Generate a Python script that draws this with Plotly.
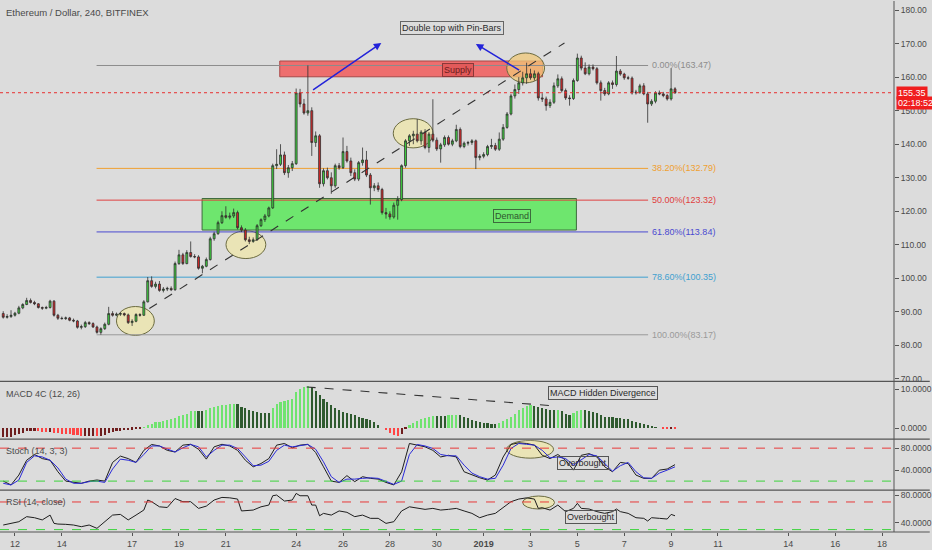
import pandas as pd
import plotly.graph_objects as go
from plotly.subplots import make_subplots

# ---------------------------------------------------------------
# ETH/USD 4h candles (Bitfinex)
# ---------------------------------------------------------------
first_candle = "2018-12-11 12:00"

open_ = [
    89.5, 88.4, 88.6, 89.0, 89.6, 91.2, 92.2, 93.4, 92.8, 92.4,
    91.3, 91.1, 91.3, 93.2, 89.0, 88.1, 88.0, 88.2, 87.5, 87.3,
    85.4, 85.6, 86.8, 86.5, 85.5, 83.9, 85.0, 86.3, 89.5, 89.0,
    89.3, 89.5, 89.1, 86.8, 87.2, 89.2, 89.0, 93.0, 99.3, 97.6,
    98.3, 96.4, 96.8, 97.0, 96.6, 104.4, 107.0, 104.4, 107.7, 106.5,
    106.4, 103.0, 103.6, 105.6, 111.8, 113.3, 116.6, 118.7, 118.2, 118.6,
    119.6, 115.1, 114.4, 111.5, 111.0, 111.5, 115.7, 117.5, 118.6, 121.0,
    133.6, 134.0, 136.8, 131.5, 133.0, 134.2, 155.3, 152.0, 149.3, 150.0,
    140.5, 142.5, 128.2, 132.1, 130.0, 127.6, 133.6, 133.0, 137.8, 135.0,
    131.5, 129.6, 134.5, 135.3, 130.8, 127.0, 127.6, 126.5, 119.6, 119.2,
    118.3, 121.8, 123.5, 133.6, 141.0, 142.5, 143.0, 141.0, 143.6, 139.0,
    143.0, 141.2, 138.6, 139.8, 142.0, 140.0, 141.0, 144.4, 139.3, 140.3,
    140.5, 141.0, 136.0, 136.4, 136.9, 139.3, 139.6, 138.5, 141.5, 145.0,
    149.0, 154.4, 156.3, 158.3, 159.8, 161.0, 159.8, 161.0, 153.8, 153.5,
    151.5, 152.5, 157.4, 159.5, 156.0, 153.8, 153.6, 159.0, 165.7, 162.7,
    161.0, 163.0, 162.5, 158.3, 156.0, 155.0, 158.3, 157.8, 161.8, 160.9,
    159.8, 159.7, 155.3, 155.5, 157.4, 155.0, 152.0, 152.8, 155.3, 155.0,
    154.5, 153.5, 156.5,
]
high = [
    90.2, 89.3, 90.5, 90.0, 91.8, 92.6, 94.2, 94.0, 93.3, 92.6,
    91.6, 91.8, 93.6, 93.5, 89.4, 88.6, 88.6, 88.5, 88.0, 87.6,
    86.2, 87.3, 87.2, 86.9, 85.9, 85.4, 86.8, 91.5, 90.2, 89.8,
    89.9, 89.8, 89.5, 87.8, 89.6, 89.6, 93.5, 100.4, 100.6, 99.0,
    99.2, 97.4, 97.5, 97.6, 105.0, 108.5, 107.6, 108.4, 111.0, 107.2,
    106.9, 104.0, 106.2, 112.4, 113.9, 117.2, 120.0, 121.5, 119.6, 120.8,
    120.2, 115.8, 115.0, 112.4, 112.2, 116.2, 117.9, 119.2, 121.4, 134.2,
    138.5, 140.0, 137.8, 133.8, 135.0, 156.6, 156.5, 153.5, 163.5, 151.0,
    143.8, 143.0, 132.8, 133.0, 131.6, 134.2, 134.4, 142.0, 139.5, 136.0,
    132.5, 135.0, 139.0, 138.0, 131.4, 128.4, 128.6, 127.0, 121.0, 120.0,
    122.6, 124.5, 134.0, 141.5, 143.0, 144.0, 147.5, 144.2, 144.5, 143.6,
    153.4, 142.0, 140.4, 142.6, 142.6, 141.6, 145.8, 145.0, 140.8, 141.0,
    141.5, 141.4, 137.0, 137.6, 139.8, 141.6, 140.4, 143.5, 146.0, 149.6,
    155.0, 157.8, 160.0, 161.6, 164.3, 162.5, 162.0, 161.6, 155.2, 154.2,
    153.4, 158.4, 160.8, 160.2, 156.6, 154.6, 159.6, 167.0, 166.4, 164.4,
    163.8, 163.8, 163.0, 159.0, 156.8, 158.8, 159.0, 166.3, 162.4, 161.3,
    160.4, 160.2, 156.2, 158.0, 158.2, 155.6, 153.4, 155.8, 156.0, 155.6,
    155.0, 162.7, 157.0,
]
low = [
    88.0, 88.0, 88.2, 88.6, 89.3, 90.8, 92.0, 92.5, 92.0, 91.0,
    90.6, 90.8, 91.0, 88.6, 87.6, 87.7, 87.6, 87.2, 86.9, 85.0,
    84.8, 85.2, 86.1, 85.2, 83.5, 83.2, 84.6, 86.0, 88.6, 88.7,
    88.8, 88.7, 86.4, 85.8, 86.9, 88.6, 88.8, 92.8, 97.2, 97.0,
    96.0, 95.8, 96.2, 96.2, 96.3, 104.0, 104.0, 104.2, 106.2, 106.0,
    102.6, 101.5, 103.3, 105.3, 111.2, 113.0, 116.2, 117.8, 117.6, 118.0,
    114.6, 113.8, 111.0, 110.2, 110.6, 111.2, 115.3, 116.8, 118.2, 120.7,
    132.6, 133.5, 130.8, 130.0, 132.0, 133.8, 151.0, 148.8, 148.5, 136.5,
    139.2, 127.0, 127.4, 129.5, 125.2, 127.0, 132.4, 132.6, 134.5, 130.5,
    129.0, 129.0, 133.6, 130.2, 122.0, 126.0, 125.8, 119.0, 117.8, 117.5,
    117.8, 117.5, 123.0, 133.0, 139.5, 140.0, 140.5, 139.8, 138.5, 137.5,
    140.6, 138.0, 134.5, 139.2, 139.6, 139.4, 140.6, 138.8, 138.8, 139.6,
    139.8, 132.6, 135.2, 135.8, 136.4, 138.6, 138.0, 138.0, 141.0, 144.6,
    148.6, 153.6, 155.0, 157.5, 158.0, 159.2, 159.0, 153.0, 152.6, 150.0,
    150.8, 152.0, 156.8, 155.4, 153.2, 151.5, 153.2, 158.6, 162.0, 160.6,
    160.5, 162.0, 157.8, 153.0, 154.4, 154.6, 156.5, 157.2, 160.4, 159.2,
    159.2, 154.8, 154.8, 155.0, 154.6, 146.4, 151.4, 152.2, 154.6, 154.0,
    153.0, 153.0, 155.0,
]
close = [
    88.4, 88.6, 89.0, 89.6, 91.2, 92.2, 93.4, 92.8, 92.4, 91.3,
    91.1, 91.3, 93.2, 89.0, 88.1, 88.0, 88.2, 87.5, 87.3, 85.4,
    85.6, 86.8, 86.5, 85.5, 83.9, 85.0, 86.3, 89.5, 89.0, 89.3,
    89.5, 89.1, 86.8, 87.2, 89.2, 89.0, 93.0, 99.3, 97.6, 98.3,
    96.4, 96.8, 97.0, 96.6, 104.4, 107.0, 104.4, 107.7, 106.5, 106.4,
    103.0, 103.6, 105.6, 111.8, 113.3, 116.6, 118.7, 118.2, 118.6, 119.6,
    115.1, 114.4, 111.5, 111.0, 111.5, 115.7, 117.5, 118.6, 121.0, 133.6,
    134.0, 136.8, 131.5, 133.0, 134.2, 155.3, 152.0, 149.3, 150.0, 140.5,
    142.5, 128.2, 132.1, 130.0, 127.6, 133.6, 133.0, 137.8, 135.0, 131.5,
    129.6, 134.5, 135.3, 130.8, 127.0, 127.6, 126.5, 119.6, 119.2, 118.3,
    121.8, 123.5, 133.6, 141.0, 142.5, 143.0, 141.0, 143.6, 139.0, 143.0,
    141.2, 138.6, 139.8, 142.0, 140.0, 141.0, 144.4, 139.3, 140.3, 140.5,
    141.0, 136.0, 136.4, 136.9, 139.3, 139.6, 138.5, 141.5, 145.0, 149.0,
    154.4, 156.3, 158.3, 159.8, 161.0, 159.8, 161.0, 153.8, 153.5, 151.5,
    152.5, 157.4, 159.5, 156.0, 153.8, 153.6, 159.0, 165.7, 162.7, 161.0,
    163.0, 162.5, 158.3, 156.0, 155.0, 158.3, 157.8, 161.8, 160.9, 159.8,
    159.7, 155.3, 155.5, 157.4, 155.0, 152.0, 152.8, 155.3, 155.0, 154.5,
    153.5, 156.5, 155.35,
]

# MACD 4C histogram, one bar per candle
macd_hist = [
    -2.3, -2.3, -2.2, -1.9, -1.45, -1.2, -0.85, -0.75, -0.75, -0.85,
    -0.95, -1.0, -1.0, -1.2, -1.4, -1.45, -1.55, -1.6, -1.7, -1.9,
    -2.0, -2.0, -2.0, -2.0, -2.05, -2.0, -1.7, -1.3, -1.0, -0.85,
    -0.7, -0.6, -0.6, -0.45, -0.35, -0.2, 0.1, 0.7, 1.0, 1.4,
    1.55, 1.8, 2.05, 2.2, 2.55, 3.1, 3.25, 3.6, 4.3, 4.45,
    4.45, 4.45, 4.7, 5.1, 5.4, 5.6, 5.8, 6.0, 6.15, 6.25,
    6.15, 5.4, 5.0, 4.6, 4.3, 4.1, 3.95, 3.95, 3.95, 5.1,
    6.15, 6.65, 6.9, 7.1, 7.35, 9.2, 10.0, 10.4, 10.7, 10.4,
    9.6, 8.55, 7.5, 6.65, 6.0, 5.1, 4.6, 4.1, 3.95, 3.7,
    3.25, 2.8, 2.55, 2.4, 2.0, 1.55, 0.85, 0.0, -0.6, -1.2,
    -1.7, -2.05, -1.55, -0.2, 0.7, 1.3, 1.9, 2.3, 2.55, 2.8,
    3.1, 3.1, 3.1, 3.1, 3.2, 3.25, 3.3, 3.3, 2.85, 2.6,
    2.15, 1.8, 1.4, 1.3, 1.2, 1.0, 0.95, 1.3, 1.7, 2.25,
    2.75, 3.7, 4.55, 5.15, 5.6, 5.8, 5.7, 5.5, 5.15, 4.75,
    4.55, 4.5, 4.55, 4.3, 3.6, 3.45, 3.95, 4.4, 4.55, 4.5,
    4.3, 4.15, 3.9, 3.45, 2.9, 2.75, 2.7, 2.6, 2.6, 2.4,
    2.25, 1.8, 1.55, 1.3, 1.05, 0.7, 0.25, 0.1, 0.0, -0.15,
    -0.2, -0.1, -0.15,
]

# Stoch (14, 3, 3), read every second candle
stoch_idx = list(range(0, 173, 2))
stoch_k = [
    20, 13, 31, 58, 68.5, 61, 58, 37, 20, 17.6,
    16, 20, 22, 20, 54, 65.5, 61, 54, 76, 86.7,
    84, 76, 73, 85.5, 87, 78, 60, 82.4, 87, 84,
    76, 58, 46, 52, 61, 85.5, 88.5, 80.6, 85.5, 87,
    72, 46, 20, 17.6, 30, 19, 28, 25, 23.6, 17.6,
    13, 37, 88.5, 85.5, 82.4, 76, 64, 67, 64, 37,
    31, 26, 22, 31, 64, 86.7, 89.7, 88.5, 85.5, 67,
    61, 68.5, 58, 40, 67, 70, 64, 46, 37, 54,
    52, 31, 25, 25, 40, 42, 50,
]
stoch_d = [
    16, 13, 22, 54, 66, 64, 58, 44, 23.6, 16,
    16, 19, 20, 17.6, 42, 60, 58, 54, 68.5, 84,
    84, 78, 73, 80.6, 86.7, 82.4, 64, 76, 85.5, 85.5,
    79.4, 64, 48, 49, 56, 76, 85.5, 82.4, 84, 86.7,
    78, 55, 28, 17.6, 23.6, 23.6, 25, 26, 25, 20,
    14, 20, 68.5, 86.7, 84, 79.4, 68.5, 66, 66, 49,
    34.6, 28, 23.6, 25, 49, 79.4, 88.5, 87, 85.5, 76,
    62.4, 64, 61, 49, 58, 68.5, 66, 52, 38, 48,
    54, 37, 26, 25, 34.6, 40, 46,
]

# RSI (14, close)
rsi_idx = [
    0, 2, 4, 6, 8, 10, 12, 13, 14, 16, 18, 20, 22, 24, 26, 28, 30, 32, 34, 36,
    37, 38, 40, 42, 44, 46, 48, 50, 52, 54, 56, 58, 60, 61, 64, 66, 68, 69, 70, 72,
    74, 75, 76, 78, 79, 80, 81, 82, 84, 86, 88, 90, 92, 94, 96, 98, 100, 102, 104, 106,
    108, 110, 112, 114, 116, 118, 120, 122, 124, 126, 128, 130, 132, 134, 136, 137, 138, 140, 142, 144,
    146, 147, 148, 150, 152, 154, 156, 157, 158, 160, 162, 164, 165, 166, 168, 170, 171, 172,
]
rsi_val = [
    36.6, 39, 41.4, 48.7, 47.2, 44, 51, 39, 38, 37.6, 36.6, 34.2, 36.6, 31.8, 41.4, 51, 52, 44, 51, 58.3,
    72.8, 70.4, 63, 62, 75, 70.4, 70.4, 60.7, 64, 72.8, 76.6, 76, 74.2, 57, 58.3, 63, 65.5, 79, 80, 71.3,
    72.8, 82.4, 79, 79, 65.5, 65.5, 50, 53.5, 51, 57, 55, 48.7, 51, 46.3, 46.3, 39, 41.4, 57, 63, 60.7,
    59.3, 60.7, 58.3, 59.3, 60.7, 57, 53.5, 47.2, 51, 53.5, 61.7, 70.4, 74.2, 76, 74.2, 60.7, 61.7, 58.3, 65.5, 56,
    60.7, 68, 60.7, 59.8, 56, 53.5, 56, 59.8, 56, 53.5, 47.2, 46.3, 42.4, 47.2, 46.3, 45.3, 52, 50,
]

# Fibonacci retracement drawn on the chart
fib_labels = ["0.00%", "38.20%", "50.00%", "61.80%", "78.60%", "100.00%"]
fib_prices = [163.47, 132.79, 123.32, 113.84, 100.35, 83.17]
fib_colors = ["#8c8c8c", "#f0a030", "#e04040", "#4a4ad0", "#3fa0d0", "#9a9a9a"]

last_price = 155.35
x_ticks = ["2018-12-12", "2018-12-14", "2018-12-17", "2018-12-19", "2018-12-21",
           "2018-12-24", "2018-12-26", "2018-12-28", "2018-12-30", "2019-01-01",
           "2019-01-03", "2019-01-05", "2019-01-07", "2019-01-09", "2019-01-11",
           "2019-01-14", "2019-01-16", "2019-01-18"]
x_tick_text = ["12", "14", "17", "19", "21", "24", "26", "28", "30", "<b>2019</b>",
               "3", "5", "7", "9", "11", "14", "16", "18"]

# ---------------------------------------------------------------
BG = "#dcdcdc"
AXIS = "#555555"
TXT = "#4a4a4a"
FONT = "Liberation Sans, Arial, sans-serif"

times = pd.date_range(first_candle, periods=len(close), freq="4h")
stoch_t = times[stoch_idx]
rsi_t = times[rsi_idx]

fig = make_subplots(rows=4, cols=1, shared_xaxes=True, vertical_spacing=0)

fig.add_trace(go.Candlestick(
    x=times, open=open_, high=high, low=low, close=close,
    increasing=dict(line=dict(color="#303030", width=0.8), fillcolor="#3fd33f"),
    decreasing=dict(line=dict(color="#303030", width=0.8), fillcolor="#d62828"),
    whiskerwidth=0, showlegend=False, hoverinfo="skip"), row=1, col=1)

# MACD 4C colouring: lime/green above zero, red/maroon below
macd_colors = []
for k, v in enumerate(macd_hist):
    prev = macd_hist[k - 1] if k else v
    if v >= 0:
        macd_colors.append("#6fe36f" if v > prev else "#2e5a2e")
    else:
        macd_colors.append("#ff4444" if v < prev else "#6e1e1e")

fig.add_trace(go.Bar(x=times, y=macd_hist, marker_color=macd_colors,
                     marker_line_width=0, width=0.55 * 4 * 3600 * 1000,
                     showlegend=False, hoverinfo="skip"), row=2, col=1)

fig.add_trace(go.Scatter(x=stoch_t, y=stoch_k, mode="lines",
                         line=dict(color="#1e1e1e", width=1), showlegend=False), row=3, col=1)
fig.add_trace(go.Scatter(x=stoch_t, y=stoch_d, mode="lines",
                         line=dict(color="#2a2ad8", width=1), showlegend=False), row=3, col=1)
fig.add_trace(go.Scatter(x=rsi_t, y=rsi_val, mode="lines",
                         line=dict(color="#1e1e1e", width=1), showlegend=False), row=4, col=1)

# ---------------------------------------------------------------
# drawings
# ---------------------------------------------------------------
shapes = []
# supply / demand zones
shapes.append(dict(type="rect", xref="x", yref="y", x0="2018-12-23 07:12", x1="2019-01-03 12:21",
                   y0=160.1, y1=164.8, fillcolor="#ee6e6e", line=dict(color="#a84848", width=1),
                   layer="below"))
shapes.append(dict(type="rect", xref="x", yref="y", x0="2018-12-19 23:40", x1="2019-01-04 23:00",
                   y0=114.4, y1=123.8, fillcolor="#6ee66e", line=dict(color="#3d6b3d", width=1),
                   layer="below"))
# ellipses
ell = dict(type="circle", fillcolor="rgba(240,232,168,0.72)", line=dict(color="#6b6b40", width=1),
           layer="below")
shapes.append(dict(ell, xref="x", yref="y", x0="2018-12-16 08:00", x1="2018-12-17 22:44", y0=83.0, y1=91.6))
shapes.append(dict(ell, xref="x", yref="y", x0="2018-12-21 00:09", x1="2018-12-22 16:55", y0=105.9, y1=114.2))
shapes.append(dict(ell, xref="x", yref="y", x0="2018-12-28 03:26", x1="2018-12-29 20:13", y0=138.9, y1=147.6))
shapes.append(dict(ell, xref="x", yref="y", x0="2019-01-01 23:40", x1="2019-01-03 14:24", y0=158.3, y1=167.2,
                   fillcolor="rgba(240,200,120,0.75)"))
shapes.append(dict(ell, xref="x3", yref="y3", x0="2019-01-01 23:40", x1="2019-01-03 23:34", y0=61.8, y1=94.0))
shapes.append(dict(ell, xref="x4", yref="y4", x0="2019-01-02 15:58", x1="2019-01-04 00:36", y0=59.8, y1=78.6))

# fib levels
for lvl, price, col in zip(fib_labels, fib_prices, fib_colors):
    shapes.append(dict(type="line", xref="x", yref="y", x0="2018-12-15 11:36", x1="2019-01-08 00:26",
                       y0=price, y1=price, line=dict(color=col, width=1), layer="below"))

# last price line
shapes.append(dict(type="line", xref="paper", yref="y", x0=0, x1=1, y0=last_price, y1=last_price,
                   line=dict(color="#e83030", width=1, dash="dot")))
# trend line
shapes.append(dict(type="line", xref="x", yref="y", x0="2018-12-17 17:38", x1="2019-01-04 10:47",
                   y0=91.0, y1=170.2, line=dict(color="#333333", width=1.1, dash="dash")))
# macd divergence line
shapes.append(dict(type="line", xref="x2", yref="y2", x0="2018-12-24 10:44", x1="2019-01-04 01:37",
                   y0=10.6, y1=5.7, line=dict(color="#333333", width=1.1, dash="dash")))
# oscillator bands
for yr, hi, lo in [("y3", 80, 20), ("y4", 70, 30)]:
    shapes.append(dict(type="line", xref="paper", yref=yr, x0=0, x1=1, y0=hi, y1=hi,
                       line=dict(color="#e83a3a", width=1, dash="dash")))
    shapes.append(dict(type="line", xref="paper", yref=yr, x0=0, x1=1, y0=lo, y1=lo,
                       line=dict(color="#3cd33c", width=1, dash="dash")))
# pane separators and price scale border
for yy in [0.2838, 0.1748, 0.0789]:
    shapes.append(dict(type="line", xref="paper", yref="paper", x0=0, x1=1.04, y0=yy, y1=yy,
                       line=dict(color=AXIS, width=1.3)))
shapes.append(dict(type="line", xref="paper", yref="paper", x0=1, x1=1, y0=0, y1=1,
                   line=dict(color=AXIS, width=1)))
shapes.append(dict(type="line", xref="paper", yref="paper", x0=0, x1=1.04, y0=0, y1=0,
                   line=dict(color=AXIS, width=1)))

ann = []
small = dict(family=FONT, size=9, color=TXT)
ann.append(dict(xref="paper", yref="y domain", x=0.005, y=0.969, text="Ethereum / Dollar, 240, BITFINEX",
                showarrow=False, xanchor="left", yanchor="middle", font=dict(family=FONT, size=9.5, color=TXT)))
ann.append(dict(xref="paper", yref="y2 domain", x=0.005, y=0.80, text="MACD 4C (12, 26)",
                showarrow=False, xanchor="left", yanchor="middle", font=small))
ann.append(dict(xref="paper", yref="y3 domain", x=0.005, y=0.78, text="Stoch (14, 3, 3)",
                showarrow=False, xanchor="left", yanchor="middle", font=small))
ann.append(dict(xref="paper", yref="y4 domain", x=0.005, y=0.73, text="RSI (14, close)",
                showarrow=False, xanchor="left", yanchor="middle", font=small))

for lvl, price, col in zip(fib_labels, fib_prices, fib_colors):
    ann.append(dict(xref="x", yref="y", x="2019-01-08 02:30", y=price, text=f"{lvl}({price:.2f})",
                    showarrow=False, xanchor="left", yanchor="middle",
                    font=dict(family=FONT, size=9, color=col)))

box = dict(showarrow=False, borderwidth=1, borderpad=1, font=dict(family=FONT, size=9, color="#2a2a2a"))
ann.append(dict(box, xref="x", yref="y", x="2018-12-30 15:35", y=174.6, text="Double top with Pin-Bars",
                bordercolor="#666666"))
ann.append(dict(box, xref="x", yref="y", x="2018-12-30 21:42", y=162.1, text="Supply",
                bordercolor="#8a3838", bgcolor="#e25a5a", font=dict(family=FONT, size=9, color="#6a1c1c")))
ann.append(dict(box, xref="x", yref="y", x="2019-01-02 04:45", y=118.5, text="Demand",
                bordercolor="#3d6b3d", font=dict(family=FONT, size=9, color="#2d552d")))
ann.append(dict(box, xref="x2", yref="y2", x="2019-01-06 02:33", y=9.0, text="MACD Hidden Divergence",
                bordercolor="#555555"))
ann.append(dict(box, xref="x3", yref="y3", x="2019-01-05 06:10", y=53.6, text="Overbought",
                bordercolor="#555555"))
ann.append(dict(box, xref="x4", yref="y4", x="2019-01-05 14:20", y=48.9, text="Overbought",
                bordercolor="#555555"))

# blue arrows
for tail, head in [(("2018-12-24 15:49", 155.9), ("2018-12-27 15:11", 170.2)),
                   (("2019-01-02 13:55", 161.8), ("2018-12-31 16:03", 169.9))]:
    ann.append(dict(xref="x", yref="y", axref="x", ayref="y", x=head[0], y=head[1], ax=tail[0], ay=tail[1],
                    text="", showarrow=True, arrowhead=2, arrowsize=1, arrowwidth=1.5, arrowcolor="#2323d9"))

# price scale tags
ann.append(dict(xref="paper", yref="y", x=1.002, y=last_price, text=f"{last_price:.2f}", showarrow=False,
                xanchor="left", yanchor="middle", bgcolor="#f01e1e", borderpad=1,
                font=dict(family=FONT, size=9, color="white")))
ann.append(dict(xref="paper", yref="y", x=1.002, y=152.2, text="02:18:52", showarrow=False,
                xanchor="left", yanchor="middle", bgcolor="#f01e1e", borderpad=1,
                font=dict(family=FONT, size=9, color="white")))

fig.update_layout(
    width=932, height=550,
    margin=dict(l=0, r=34, t=0, b=18),
    paper_bgcolor=BG, plot_bgcolor=BG,
    font=dict(family=FONT, size=9, color=TXT),
    showlegend=False, hovermode=False, bargap=0,
    shapes=shapes, annotations=ann,
)

yax = dict(side="right", showgrid=False, zeroline=False, ticks="outside", ticklen=4,
           tickcolor=AXIS, tickfont=dict(family=FONT, size=8.5, color=TXT), fixedrange=True)
fig.update_layout(
    yaxis=dict(yax, domain=[0.2838, 1], range=[69.3, 182.7],
               tickvals=list(range(70, 181, 10)), tickformat=".2f"),
    yaxis2=dict(yax, domain=[0.1748, 0.2820], range=[-2.82, 11.8], tickvals=[0, 10], tickformat=".4f"),
    yaxis3=dict(yax, domain=[0.0789, 0.1729], range=[3.6, 94.5], tickvals=[40, 80], tickformat=".4f"),
    yaxis4=dict(yax, domain=[0, 0.0771], range=[26.5, 85.8], tickvals=[40, 80], tickformat=".4f"),
)
fig.update_xaxes(range=["2018-12-11 08:42", "2019-01-18 12:16"], showgrid=False, zeroline=False,
                 rangeslider_visible=False, showticklabels=False, ticks="")
fig.update_xaxes(row=4, col=1, showticklabels=True, tickvals=x_ticks, ticktext=x_tick_text,
                 ticks="outside", ticklen=3, tickcolor=AXIS,
                 tickfont=dict(family=FONT, size=9, color=TXT))

# the page body has a default 8px margin; drop it so the 932x550 figure fills the window
fig.write_html("out.html", config={"displayModeBar": False},
               post_script="document.body.style.margin='0';document.body.style.overflow='hidden';")
